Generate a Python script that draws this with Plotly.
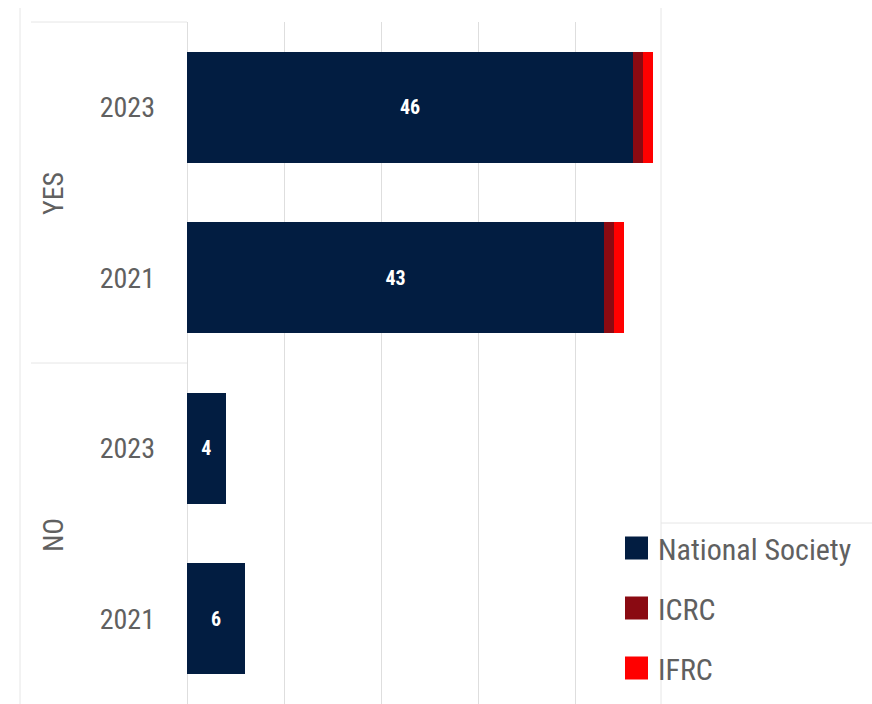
import plotly.graph_objects as go

# Survey answers grouped by response, then by year (top to bottom)
groups = ["YES", "YES", "NO", "NO"]
years = ["2023", "2021", "2023", "2021"]
national_society = [46, 43, 4, 6]
icrc = [1, 1, 0, 0]
ifrc = [1, 1, 0, 0]

series_names = ["National Society", "ICRC", "IFRC"]
series_colors = ["#021d41", "#8a0a12", "#ff0000"]

W, H = 872, 704
L, R, T, B = 187, 211, 22, 0
PW, PH = W - L - R, H - T - B

FONT = "Roboto Condensed, Liberation Sans Narrow, sans-serif"
GREY = "#606060"


def px_x(x):
    return (x - L) / PW


def px_y(y):
    return (H - B - y) / PH


keys = [f"{g} {y}" for g, y in zip(groups, years)]

fig = go.Figure()
fig.add_trace(go.Bar(
    y=keys, x=national_society, orientation="h", name=series_names[0],
    marker=dict(color=series_colors[0], line=dict(width=0)),
    text=national_society, texttemplate="%{text}", textposition="inside",
    insidetextanchor="middle",
    textfont=dict(family=FONT, size=20, color="white", weight="bold"),
    showlegend=False,
))
for vals, name, col in zip([icrc, ifrc], series_names[1:], series_colors[1:]):
    fig.add_trace(go.Bar(
        y=keys, x=vals, orientation="h", name=name,
        marker=dict(color=col, line=dict(width=0)), showlegend=False,
    ))

line_col = "#e6e6e6"
shapes = [
    # outer frame lines
    dict(type="line", xref="paper", yref="paper", x0=px_x(20), x1=px_x(20), y0=0, y1=px_y(8)),
    dict(type="line", xref="paper", yref="paper", x0=1, x1=1, y0=0, y1=px_y(8)),
    # category label box
    dict(type="line", xref="paper", yref="paper", x0=px_x(31), x1=0, y0=1, y1=1),
    dict(type="line", xref="paper", yref="paper", x0=px_x(31), x1=0, y0=0.5, y1=0.5),
    # legend box top
    dict(type="line", xref="paper", yref="paper", x0=1, x1=px_x(W), y0=px_y(523), y1=px_y(523)),
]
for s in shapes:
    s["line"] = dict(color=line_col, width=1)
    s["layer"] = "below"

annotations = [
    dict(text="YES", x=px_x(53), y=px_y(194), xref="paper", yref="paper", textangle=-90,
         xanchor="center", yanchor="middle",
         showarrow=False, font=dict(family=FONT, size=28, color=GREY)),
    dict(text="NO", x=px_x(53), y=px_y(535), xref="paper", yref="paper", textangle=-90,
         xanchor="center", yanchor="middle",
         showarrow=False, font=dict(family=FONT, size=28, color=GREY)),
]

# legend drawn as swatches and labels
for i, (name, col) in enumerate(zip(series_names, series_colors)):
    cy = 548 + i * 60
    shapes.append(dict(type="rect", xref="paper", yref="paper",
                       x0=px_x(625), x1=px_x(648), y0=px_y(cy + 11.5), y1=px_y(cy - 11.5),
                       fillcolor=col, line=dict(width=0)))
    annotations.append(dict(text=name, x=px_x(656), y=px_y(cy + 1), xref="paper", yref="paper",
                            xanchor="left", yanchor="middle", showarrow=False,
                            font=dict(family=FONT, size=30, color=GREY)))

fig.update_layout(
    width=W, height=H,
    margin=dict(l=L, r=R, t=T, b=B, pad=0),
    barmode="stack", bargap=0.35,
    plot_bgcolor="white", paper_bgcolor="white",
    shapes=shapes, annotations=annotations,
    xaxis=dict(range=[0, (661 - 187) / 9.7], tickvals=[0, 10, 20, 30, 40],
               showticklabels=False, showgrid=True, gridcolor="#dedede", gridwidth=1,
               zeroline=True, zerolinecolor="#dedede", zerolinewidth=1, showline=False,
               fixedrange=True),
    yaxis=dict(categoryorder="array", categoryarray=keys, autorange="reversed",
               tickvals=keys, ticktext=years, ticks="", ticklabelstandoff=31,
               tickfont=dict(family=FONT, size=28, color=GREY),
               showgrid=False, zeroline=False, showline=False, fixedrange=True),
)

fig.write_html("out.html")
